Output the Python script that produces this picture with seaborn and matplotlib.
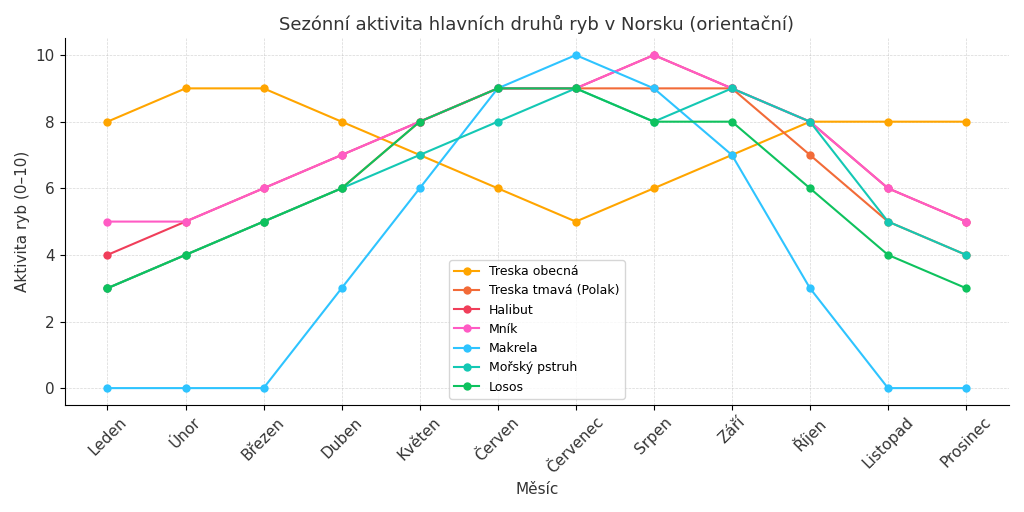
import matplotlib
matplotlib.use("Agg")
import matplotlib.pyplot as plt
import seaborn as sns
import pandas as pd

months = ["Leden","Únor","Březen","Duben","Květen","Červen","Červenec","Srpen","Září","Říjen","Listopad","Prosinec"]
treska_obecna = [8,9,9,8,7,6,5,6,7,8,8,8]
treska_tmava = [3,4,5,6,8,9,9,9,9,7,5,4]
halibut = [4,5,6,7,8,9,9,10,9,8,6,5]
mnik = [5,5,6,7,8,9,9,10,9,8,6,5]
makrela = [0,0,0,3,6,9,10,9,7,3,0,0]
morsky_pstruh = [3,4,5,6,7,8,9,8,9,8,5,4]
losos = [3,4,5,6,8,9,9,8,8,6,4,3]

series = {
    "Treska obecná": (treska_obecna, "#FFA500"),
    "Treska tmavá (Polak)": (treska_tmava, "#F26B38"),
    "Halibut": (halibut, "#F03E5A"),
    "Mník": (mnik, "#FF5BC4"),
    "Makrela": (makrela, "#2EC4FF"),
    "Mořský pstruh": (morsky_pstruh, "#14C8B4"),
    "Losos": (losos, "#0EC25E"),
}

fig, ax = plt.subplots(figsize=(10.24, 5.12), dpi=100)
x = list(range(len(months)))
for name, (vals, col) in series.items():
    df = pd.DataFrame({"x": x, "y": vals})
    sns.lineplot(data=df, x="x", y="y", ax=ax, color=col, marker="o", markersize=6,
                 markeredgewidth=0, linewidth=1.5, label=name)
ax.set_xticks(x)
ax.set_xticklabels(months, rotation=45, fontsize=11, color="#333333")
ax.set_yticks([0,2,4,6,8,10])
ax.tick_params(axis="y", labelsize=11, labelcolor="#333333")
ax.set_xlabel("Měsíc", fontsize=11, color="#333333")
ax.set_ylabel("Aktivita ryb (0–10)", fontsize=11, color="#333333")
ax.set_title("Sezónní aktivita hlavních druhů ryb v Norsku (orientační)", fontsize=13, color="#333333")
ax.grid(True, linestyle="--", linewidth=0.5, alpha=0.5)
ax.set_xlim(-0.55, 11.55)
ax.set_ylim(-0.5, 10.5)
for s in ["top", "right"]:
    ax.spines[s].set_visible(False)
ax.legend(loc="lower center", fontsize=9, frameon=True)
plt.tight_layout()
fig.savefig("out.png", dpi=100)
